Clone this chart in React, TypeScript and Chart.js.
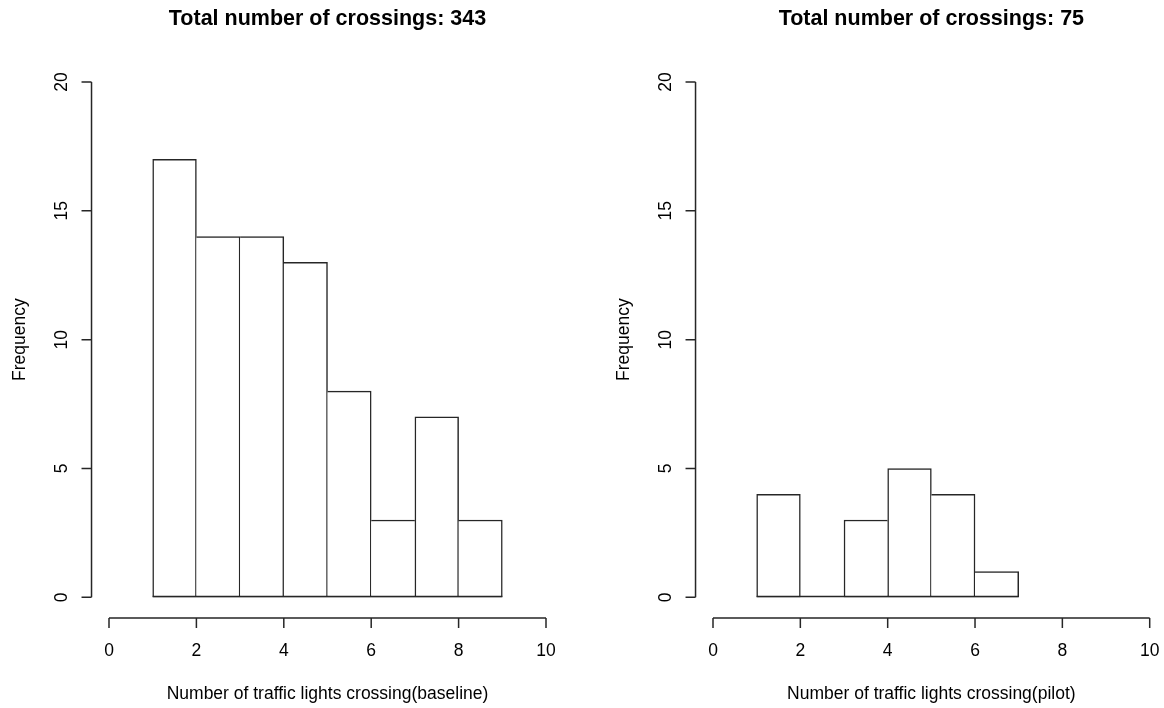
import React, { useEffect, useRef } from "react";
import { Chart, registerables } from "chart.js";

Chart.register(...registerables);

// ---- data ----
const baselineBinStarts = [1, 2, 3, 4, 5, 6, 7, 8];
const baselineCounts = [17, 14, 14, 13, 8, 3, 7, 3];
const pilotBinStarts = [1, 2, 3, 4, 5, 6];
const pilotCounts = [4, 0, 3, 5, 4, 1];
const xTickValues = [0, 2, 4, 6, 8, 10];
const yTickValues = [0, 5, 10, 15, 20];
const titles = ["Total number of crossings: 343", "Total number of crossings: 75"];
const xLabels = [
  "Number of traffic lights crossing(baseline)",
  "Number of traffic lights crossing(pilot)",
];
const yLabel = "Frequency";
const binWidth = 1;

const FONT = "'Liberation Sans', Arial, sans-serif";
const LINE = "#262626";
const LW = 1.5;

type PanelProps = {
  binStarts: number[];
  counts: number[];
  title: string;
  xLabel: string;
  padding: { left: number; right: number; top: number; bottom: number };
  left: number;
};

function Panel({ binStarts, counts, title, xLabel, padding, left }: PanelProps) {
  const ref = useRef<HTMLCanvasElement | null>(null);
  useEffect(() => {
    const canvas = ref.current;
    if (!canvas) return;
    const n = counts.length;
    const borders = counts.map((h, i) => ({
      left: i === 0 || h > counts[i - 1] ? LW : 0,
      right: i === n - 1 || h >= counts[i + 1] ? LW : 0,
      top: LW,
      bottom: LW,
    }));

    const rAxes = {
      id: "rAxes",
      afterDatasetsDraw(chart: any) {
        const ctx = chart.ctx;
        const xs = chart.scales.x;
        const ys = chart.scales.y;
        const xMin = xTickValues[0];
        const xMax = xTickValues[xTickValues.length - 1];
        const yMin = yTickValues[0];
        const yMax = yTickValues[yTickValues.length - 1];
        // usr extension 4%
        const axX = xs.getPixelForValue(xMin - 0.04 * (xMax - xMin));
        const axY = ys.getPixelForValue(yMin - 0.04 * (yMax - yMin));
        ctx.save();
        ctx.strokeStyle = LINE;
        ctx.lineWidth = LW;
        // baseline under bins (covers zero-height bins)
        ctx.beginPath();
        const b0 = ys.getPixelForValue(0);
        ctx.moveTo(xs.getPixelForValue(binStarts[0]), b0 - LW / 2);
        ctx.lineTo(xs.getPixelForValue(binStarts[n - 1] + binWidth), b0 - LW / 2);
        ctx.stroke();
        // y axis
        ctx.beginPath();
        ctx.moveTo(axX, ys.getPixelForValue(yMin));
        ctx.lineTo(axX, ys.getPixelForValue(yMax));
        yTickValues.forEach((v) => {
          const p = ys.getPixelForValue(v);
          ctx.moveTo(axX, p);
          ctx.lineTo(axX - 10, p);
        });
        // x axis
        ctx.moveTo(xs.getPixelForValue(xMin), axY);
        ctx.lineTo(xs.getPixelForValue(xMax), axY);
        xTickValues.forEach((v) => {
          const p = xs.getPixelForValue(v);
          ctx.moveTo(p, axY);
          ctx.lineTo(p, axY + 10);
        });
        ctx.stroke();

        ctx.fillStyle = "#000";
        ctx.font = `17.5px ${FONT}`;
        ctx.textAlign = "center";
        ctx.textBaseline = "middle";
        xTickValues.forEach((v) => {
          ctx.fillText(String(v), xs.getPixelForValue(v), axY + 33);
        });
        yTickValues.forEach((v) => {
          ctx.save();
          ctx.translate(axX - 29, ys.getPixelForValue(v));
          ctx.rotate(-Math.PI / 2);
          ctx.fillText(String(v), 0, 0);
          ctx.restore();
        });
        const cx = xs.getPixelForValue((xMin + xMax) / 2);
        ctx.fillText(xLabel, cx, axY + 76);
        ctx.save();
        ctx.translate(axX - 71, (ys.getPixelForValue(yMin) + ys.getPixelForValue(yMax)) / 2);
        ctx.rotate(-Math.PI / 2);
        ctx.fillText(yLabel, 0, 0);
        ctx.restore();

        ctx.font = `bold 21.5px ${FONT}`;
        ctx.fillText(title, cx, 19);
        ctx.restore();
      },
    };

    const chart = new Chart(canvas, {
      type: "bar",
      data: {
        datasets: [
          {
            data: binStarts.map((s, i) => ({ x: s + binWidth / 2, y: counts[i] })),
            backgroundColor: "#ffffff",
            borderColor: LINE,
            borderWidth: borders as any,
            borderSkipped: false,
            barPercentage: 1,
            categoryPercentage: 1,
          },
        ],
      },
      options: {
        responsive: false,
        animation: false,
        layout: { padding },
        plugins: { legend: { display: false }, tooltip: { enabled: false }, title: { display: false } },
        scales: {
          x: {
            type: "linear",
            min: xTickValues[0],
            max: xTickValues[xTickValues.length - 1],
            offset: false,
            display: false,
            ticks: { stepSize: 2 },
          },
          y: {
            type: "linear",
            min: yTickValues[0],
            max: yTickValues[yTickValues.length - 1],
            display: false,
            ticks: { stepSize: 5 },
          },
        },
      },
      plugins: [rAxes],
    });
    return () => chart.destroy();
  }, []);
  return (
    <canvas
      ref={ref}
      width={582}
      height={708}
      style={{ position: "absolute", left, top: 0, width: 582, height: 708 }}
    />
  );
}

export default function App() {
  return (
    <div
      style={{
        position: "fixed",
        left: 0,
        top: 0,
        width: 1164,
        height: 708,
        overflow: "hidden",
        background: "#ffffff",
      }}
    >
      <Panel
        binStarts={baselineBinStarts}
        counts={baselineCounts}
        title={titles[0]}
        xLabel={xLabels[0]}
        padding={{ left: 109, right: 36, top: 82, bottom: 110.7 }}
        left={0}
      />
      <Panel
        binStarts={pilotBinStarts}
        counts={pilotCounts}
        title={titles[1]}
        xLabel={xLabels[1]}
        padding={{ left: 131, right: 14.3, top: 82, bottom: 110.7 }}
        left={582}
      />
    </div>
  );
}
